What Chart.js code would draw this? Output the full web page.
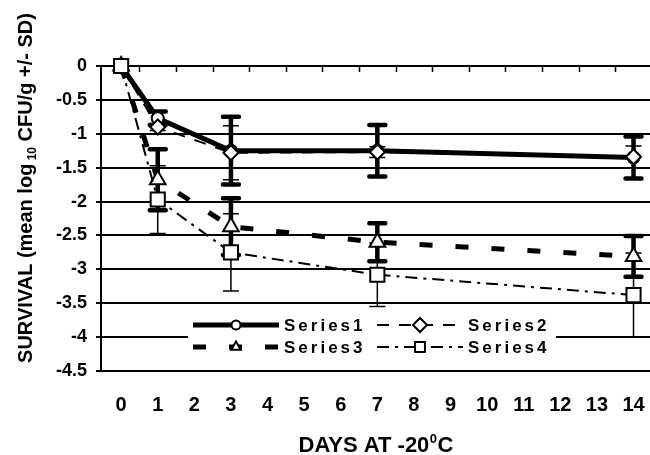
<!DOCTYPE html>
<html>
<head>
<meta charset="utf-8">
<script src="https://cdn.jsdelivr.net/npm/chart.js@4.4.0/dist/chart.umd.min.js"></script>
<style>
html, body { margin: 0; padding: 0; background: #fff; }
#wrap { width: 650px; height: 455px; }
</style>
</head>
<body>
<div id="wrap"><canvas id="survivalChart" width="650" height="455"></canvas></div>
<script>
const days = [0, 1, 3, 7, 14];
const dayTicks = [0, 1, 2, 3, 4, 5, 6, 7, 8, 9, 10, 11, 12, 13, 14];
const survivalTicks = [0, -0.5, -1, -1.5, -2, -2.5, -3, -3.5, -4, -4.5];
const seriesNames = ['Series1', 'Series2', 'Series3', 'Series4'];

const series1 = [0, -0.77, -1.25, -1.25, -1.35];
const series2 = [0, -0.90, -1.28, -1.27, -1.34];
const series3 = [0, -1.68, -2.37, -2.60, -2.81];
const series4 = [0, -1.97, -2.75, -3.08, -3.38];

const sd1 = [0, 0.10, 0.50, 0.38, 0.31];
const sd2 = [0, 0.05, 0.40, 0.08, 0.16];
const sd3 = [0, 0.45, 0.42, 0.28, 0.30];
const sd4 = [0, 0.50, 0.57, 0.47, 0.62];

const FONT = '"Liberation Sans", Arial, sans-serif';

function toPoints(values) {
    return values.map((v, i) => ({ x: days[i], y: v }));
}

// error bars, drawn under the lines so the open markers sit on top
const errorBars = {
    id: 'errorBars',
    beforeDatasetsDraw(chart) {
        const { ctx, scales: { x, y } } = chart;
        chart.data.datasets.forEach(ds => {
            ctx.save();
            ctx.strokeStyle = '#000';
            ctx.lineWidth = ds.errWidth;
            ctx.lineCap = ds.errWidth > 2 ? 'round' : 'butt';
            ds.data.forEach((pt, j) => {
                const s = ds.sd[j];
                if (!s) return;
                const px = x.getPixelForValue(pt.x);
                const top = y.getPixelForValue(pt.y + s);
                const bot = y.getPixelForValue(pt.y - s);
                ctx.beginPath();
                ctx.moveTo(px, top);
                ctx.lineTo(px, bot);
                ctx.moveTo(px - ds.capHalf, top);
                ctx.lineTo(px + ds.capHalf, top);
                ctx.moveTo(px - ds.capHalf, bot);
                ctx.lineTo(px + ds.capHalf, bot);
                ctx.stroke();
            });
            ctx.restore();
        });
    }
};

// legend box sitting inside the plot, like the original
const boxLegend = {
    id: 'boxLegend',
    afterDatasetsDraw(chart) {
        const ctx = chart.ctx;
        const cols = [193, 377];
        const rows = [325, 347];
        ctx.save();
        ctx.fillStyle = '#fff';
        ctx.fillRect(188, 313, 368, 46);
        chart.data.datasets.forEach((ds, i) => {
            const x0 = cols[i % 2];
            const yy = rows[Math.floor(i / 2)];
            ctx.strokeStyle = '#000';
            ctx.lineWidth = ds.borderWidth;
            ctx.setLineDash(ds.borderDash || []);
            ctx.beginPath();
            ctx.moveTo(x0, yy);
            ctx.lineTo(x0 + 86, yy);
            ctx.stroke();
            ctx.setLineDash([]);
            ctx.fillStyle = '#fff';
            ctx.lineWidth = 2;
            Chart.helpers.drawPoint(ctx, {
                pointStyle: ds.pointStyle,
                radius: ds.legendRadius,
                rotation: 0,
                borderWidth: 2
            }, x0 + 43, yy);
            ctx.fillStyle = '#000';
            ctx.font = 'bold 17px ' + FONT;
            ctx.letterSpacing = '3px';
            ctx.textAlign = 'left';
            ctx.textBaseline = 'middle';
            ctx.fillText(ds.label, x0 + 91, yy + 1);
            ctx.letterSpacing = '0px';
        });
        ctx.restore();
    }
};

// small tick marks hanging from the top axis line, between the day labels,
// plus the two axis titles (with sub/superscript)
const axisExtras = {
    id: 'axisExtras',
    afterDraw(chart) {
        const { ctx, chartArea, scales: { x } } = chart;
        ctx.save();
        ctx.strokeStyle = '#000';
        ctx.lineWidth = 1.5;
        ctx.beginPath();
        dayTicks.slice(0, -1).forEach(d => {
            const px = Math.round(x.getPixelForValue(d + 0.5)) + 0.5;
            ctx.moveTo(px, chartArea.top);
            ctx.lineTo(px, chartArea.top + 6);
        });
        ctx.stroke();

        ctx.fillStyle = '#000';
        ctx.textBaseline = 'alphabetic';
        ctx.textAlign = 'left';

        // x title: DAYS AT -20(sup 0)C
        const big = 'bold 22px ' + FONT, small = 'bold 13px ' + FONT;
        ctx.font = big;
        const a = 'DAYS AT -20', c = 'C';
        const wa = ctx.measureText(a).width, wc = ctx.measureText(c).width;
        ctx.font = small;
        const wb = ctx.measureText('0').width + 1;
        let sx = 376 - (wa + wb + wc) / 2;
        ctx.font = big;
        ctx.fillText(a, sx, 452);
        ctx.font = small;
        ctx.fillText('0', sx + wa + 0.5, 443);
        ctx.font = big;
        ctx.fillText(c, sx + wa + wb, 452);

        // y title: SURVIVAL (mean log(sub 10) CFU/g +/- SD)
        const yf = 'bold 20px ' + FONT, ys = 'bold 12px ' + FONT;
        const p1 = 'SURVIVAL (mean log', p2 = '10', p3 = ' CFU/g +/- SD)';
        ctx.font = yf;
        const w1 = ctx.measureText(p1).width, w3 = ctx.measureText(p3).width;
        ctx.font = ys;
        const w2 = ctx.measureText(' ' + p2).width;
        ctx.translate(32, 188);
        ctx.rotate(-Math.PI / 2);
        let tx = -(w1 + w2 + w3) / 2;
        ctx.font = yf;
        ctx.fillText(p1, tx, 0);
        ctx.font = ys;
        ctx.fillText(' ' + p2, tx + w1, 4);
        ctx.font = yf;
        ctx.fillText(p3, tx + w1 + w2, 0);
        ctx.restore();
    }
};

const ctx = document.getElementById('survivalChart').getContext('2d');
const chart = new Chart(ctx, {
    type: 'line',
    data: {
        datasets: [
            {
                label: seriesNames[0], data: toPoints(series1), sd: sd1,
                borderColor: '#000', borderWidth: 5, borderDash: [],
                pointStyle: 'circle', pointRadius: 6, legendRadius: 4.5,
                errWidth: 4.5, capHalf: 8, order: 4
            },
            {
                label: seriesNames[1], data: toPoints(series2), sd: sd2,
                borderColor: '#000', borderWidth: 2, borderDash: [12, 10],
                pointStyle: 'rectRot', pointRadius: 7.5, legendRadius: 7,
                errWidth: 1.5, capHalf: 8, order: 3
            },
            {
                label: seriesNames[2], data: toPoints(series3), sd: sd3,
                borderColor: '#000', borderWidth: 5, borderDash: [13, 23],
                pointStyle: 'triangle', pointRadius: 9, legendRadius: 5.5,
                errWidth: 4.5, capHalf: 8, order: 2
            },
            {
                label: seriesNames[3], data: toPoints(series4), sd: sd4,
                borderColor: '#000', borderWidth: 2, borderDash: [12, 6, 3, 6],
                pointStyle: 'rect', pointRadius: 10, legendRadius: 7,
                errWidth: 1.5, capHalf: 8, order: 1
            }
        ]
    },
    options: {
        responsive: false,
        animation: false,
        devicePixelRatio: 1,
        layout: { autoPadding: false, padding: { top: 66, right: 0, left: 0, bottom: 0 } },
        datasets: {
            line: {
                tension: 0,
                clip: false,
                fill: false,
                pointBackgroundColor: '#fff',
                pointBorderColor: '#000',
                pointBorderWidth: 2,
                pointHoverRadius: 6
            }
        },
        plugins: {
            legend: { display: false },
            tooltip: { enabled: false }
        },
        scales: {
            x: {
                type: 'linear',
                min: -0.55,
                max: 14.45,
                afterBuildTicks: axis => { axis.ticks = dayTicks.map(v => ({ value: v })); },
                afterFit: axis => {
                    axis.height = 84;
                    axis.paddingLeft = 0;
                    axis.paddingRight = 0;
                },
                grid: { display: false, drawTicks: false },
                border: { display: true, color: '#000', width: 2 },
                ticks: {
                    color: '#000',
                    padding: 22,
                    maxRotation: 0,
                    autoSkip: false,
                    font: { family: FONT, size: 20, weight: 'bold' }
                }
            },
            y: {
                min: -4.5,
                max: 0,
                afterBuildTicks: axis => { axis.ticks = survivalTicks.map(v => ({ value: v })); },
                afterFit: axis => {
                    axis.width = 101;
                    axis.paddingTop = 0;
                    axis.paddingBottom = 0;
                },
                grid: { color: '#000', lineWidth: 2, tickLength: 5 },
                border: { display: true, color: '#000', width: 2 },
                ticks: {
                    color: '#000',
                    padding: 9,
                    font: { family: FONT, size: 18, weight: 'bold' },
                    callback: v => String(v)
                }
            }
        }
    },
    plugins: [errorBars, boxLegend, axisExtras]
});
</script>
</body>
</html>
